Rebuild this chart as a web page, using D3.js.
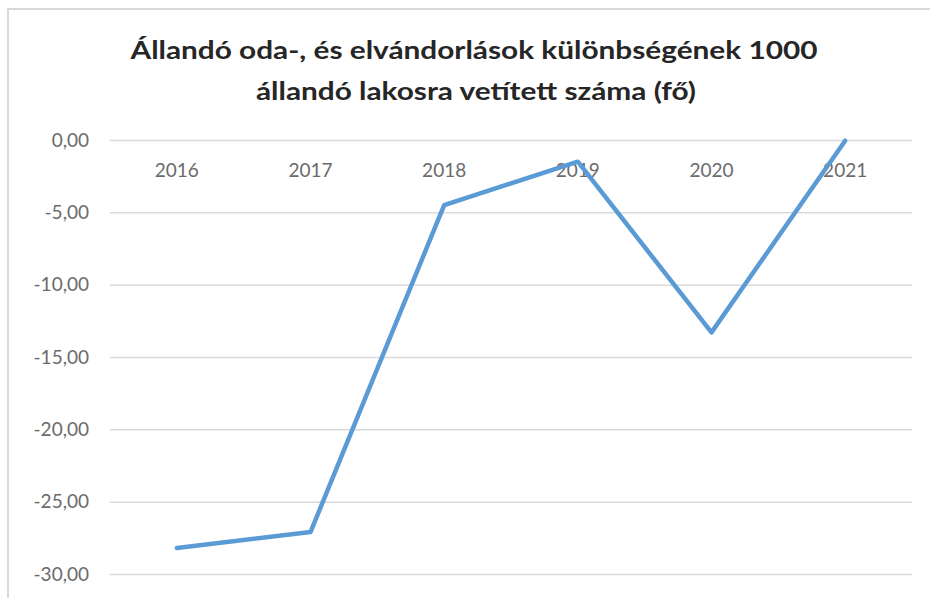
<!DOCTYPE html>
<html lang="hu">
<head>
<meta charset="utf-8">
<title>Állandó oda- és elvándorlások</title>
<script src="https://cdn.jsdelivr.net/npm/d3@7"></script>
<style>
  body { margin: 0; background: #fff; }
  text { font-family: Lato, "Open Sans", sans-serif; }
</style>
</head>
<body>
<svg id="chart"></svg>
<script>
// adatok
var years = ['2016', '2017', '2018', '2019', '2020', '2021'];
var values = [-28.2, -27.1, -4.5, -1.5, -13.3, -0.05];
var yTicks = [0, -5, -10, -15, -20, -25, -30];
var titleLines = ['Állandó oda-, és elvándorlások különbségének 1000', 'állandó lakosra vetített száma (fő)'];

var W = 930, H = 598;
var plot = {left: 110, right: 912, top: 140, bottom: 574};

var svg = d3.select('#chart').attr('width', W).attr('height', H);

// keret (a kép jobb/alsó széle levágva)
svg.append('path')
  .attr('d', 'M8,' + (H + 5) + 'V9H' + (W + 5))
  .attr('fill', 'none').attr('stroke', '#d9d9d9').attr('stroke-width', 2);

// cím - szélességre igazítva (Calibri-szerű arány)
var title = svg.append('g');
var t1 = title.append('text').attr('x', 474).attr('y', 59)
  .attr('text-anchor', 'middle').attr('font-weight', 'bold')
  .attr('font-size', 25).attr('fill', '#262626').text(titleLines[0]);
var ratio = 687 / t1.node().getComputedTextLength();
t1.attr('textLength', 687).attr('lengthAdjust', 'spacingAndGlyphs');
var t2 = title.append('text').attr('x', 476).attr('y', 100)
  .attr('text-anchor', 'middle').attr('font-weight', 'bold')
  .attr('font-size', 25).attr('fill', '#262626').text(titleLines[1]);
t2.attr('textLength', t2.node().getComputedTextLength() * ratio).attr('lengthAdjust', 'spacingAndGlyphs');

var x = d3.scaleBand().domain(years).range([plot.left, plot.right]);
var y = d3.scaleLinear().domain([0, -30]).range([plot.top, plot.bottom]);

var fmt = function(d) { return d3.format('.2f')(d).replace('.', ',').replace('−', '-'); };

// rácsvonalak + y tengely
var yAxis = svg.append('g').attr('transform', 'translate(' + plot.left + ',0)')
  .call(d3.axisLeft(y).tickValues(yTicks).tickFormat(fmt)
    .tickSize(-(plot.right - plot.left)).tickPadding(21));
yAxis.select('.domain').remove();
yAxis.selectAll('line').attr('stroke', '#d9d9d9').attr('stroke-width', 1.5);
yAxis.selectAll('text').attr('fill', '#6b6b6b').attr('font-size', 19);

// x tengely feliratok a 0 vonal alatt
var xAxis = svg.append('g').attr('transform', 'translate(0,' + y(0) + ')')
  .call(d3.axisBottom(x).tickSize(0).tickPadding(24));
xAxis.select('.domain').remove();
xAxis.selectAll('text').attr('fill', '#6b6b6b').attr('font-size', 19);

// vonal
var line = d3.line()
  .x(function(d, i) { return x(years[i]) + x.bandwidth() / 2; })
  .y(function(d) { return y(d); });

svg.append('path').datum(values)
  .attr('d', line)
  .attr('fill', 'none')
  .attr('stroke', '#5b9bd5')
  .attr('stroke-width', 4.5)
  .attr('stroke-linejoin', 'round')
  .attr('stroke-linecap', 'round');
</script>
</body>
</html>
